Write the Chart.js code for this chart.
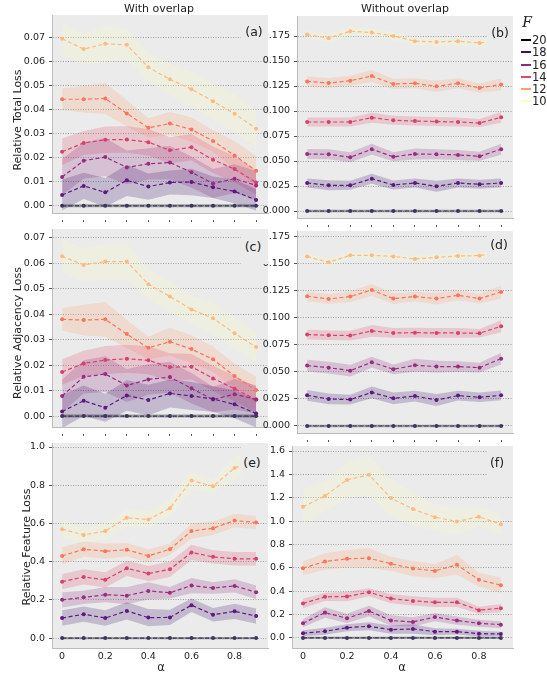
<!DOCTYPE html>
<html>
<head>
<meta charset="utf-8">
<script src="https://cdn.jsdelivr.net/npm/chart.js@4.4.0/dist/chart.umd.min.js"></script>
<style>
  body { margin: 0; width: 547px; height: 674px; background: #fff; position: relative; overflow: hidden;
         font-family: "DejaVu Sans", sans-serif; color: #222; }
  canvas { position: absolute; }
  .txt { position: absolute; white-space: nowrap; transform: translate(-50%, -50%); }
  .ylab { position: absolute; white-space: nowrap; font-size: 11px; transform: translate(-50%, -50%) rotate(-90deg); }
  .tag { position: absolute; background: #ebebeb; font-size: 12.5px; z-index: 5; }
  .tag span { position: absolute; transform: translate(-50%, -50%); }
  .leg { position: absolute; font-size: 11.5px; }
  .leg i { position: absolute; left: 0; width: 10px; height: 2px; }
</style>
</head>
<body>
<script>
// alpha values on the x axis
const alphas = [0, 0.1, 0.2, 0.3, 0.4, 0.5, 0.6, 0.7, 0.8, 0.9];
const fValues = [20, 18, 16, 14, 12, 10];

// rows follow fValues: 20, 18, 16, 14, 12, 10
const totalOverlap = [
    [0, 0, 0, 0, 0, 0, 0, 0, 0, 0],
    [0.0045, 0.0083, 0.0056, 0.0106, 0.0080, 0.0097, 0.0099, 0.0077, 0.0060, 0.0024],
    [0.0120, 0.0188, 0.0203, 0.0160, 0.0175, 0.0180, 0.0140, 0.0093, 0.0113, 0.0085],
    [0.0225, 0.0262, 0.0275, 0.0276, 0.0265, 0.0231, 0.0244, 0.0192, 0.0153, 0.0097],
    [0.0444, 0.0444, 0.0447, 0.0385, 0.0325, 0.0343, 0.0318, 0.0270, 0.0210, 0.0146],
    [0.0696, 0.0653, 0.0675, 0.0671, 0.0577, 0.0527, 0.0486, 0.0436, 0.0384, 0.0321]
];
const totalOverlapSpread = [
    [0.0006, 0.0006, 0.0006, 0.0006, 0.0006, 0.0006, 0.0006, 0.0006, 0.0006, 0.0006],
    [0.0065, 0.0055, 0.0060, 0.0065, 0.0055, 0.0050, 0.0055, 0.0045, 0.0050, 0.0045],
    [0.0075, 0.0075, 0.0080, 0.0070, 0.0065, 0.0070, 0.0065, 0.0060, 0.0060, 0.0060],
    [0.0055, 0.0050, 0.0055, 0.0055, 0.0055, 0.0055, 0.0055, 0.0055, 0.0055, 0.0050],
    [0.0045, 0.0055, 0.0065, 0.0055, 0.0040, 0.0048, 0.0050, 0.0045, 0.0060, 0.0060],
    [0.0065, 0.0065, 0.0075, 0.0065, 0.0060, 0.0065, 0.0075, 0.0075, 0.0080, 0.0075]
];

const totalNoOverlap = [
    [0, 0, 0, 0, 0, 0, 0, 0, 0, 0],
    [0.0280, 0.0257, 0.0257, 0.0323, 0.0260, 0.0280, 0.0247, 0.0280, 0.0267, 0.0280],
    [0.0570, 0.0567, 0.0537, 0.0618, 0.0542, 0.0570, 0.0567, 0.0561, 0.0547, 0.0618],
    [0.0890, 0.0890, 0.0890, 0.0933, 0.0907, 0.0900, 0.0894, 0.0890, 0.0880, 0.0937],
    [0.1296, 0.1280, 0.1303, 0.1349, 0.1270, 0.1277, 0.1247, 0.1277, 0.1230, 0.1266],
    [0.1764, 0.1728, 0.1798, 0.1784, 0.1751, 0.1698, 0.1691, 0.1698, 0.1681, 0.1700]
];
const totalNoOverlapSpread = [
    [0.0012, 0.0012, 0.0012, 0.0012, 0.0012, 0.0012, 0.0012, 0.0012, 0.0012, 0.0012],
    [0.0045, 0.0050, 0.0045, 0.0050, 0.0045, 0.0045, 0.0055, 0.0045, 0.0045, 0.0045],
    [0.0050, 0.0050, 0.0050, 0.0055, 0.0045, 0.0055, 0.0050, 0.0050, 0.0045, 0.0055],
    [0.0045, 0.0045, 0.0045, 0.0050, 0.0045, 0.0045, 0.0045, 0.0045, 0.0040, 0.0055],
    [0.0050, 0.0050, 0.0050, 0.0060, 0.0050, 0.0050, 0.0055, 0.0050, 0.0045, 0.0060],
    [0.0040, 0.0040, 0.0050, 0.0045, 0.0040, 0.0040, 0.0040, 0.0040, 0.0040, 0.0040]
];

const adjOverlap = [
    [0, 0, 0, 0, 0, 0, 0, 0, 0, 0],
    [0.0018, 0.0060, 0.0033, 0.0081, 0.0063, 0.0089, 0.0079, 0.0067, 0.0046, 0.0010],
    [0.0079, 0.0154, 0.0165, 0.0120, 0.0144, 0.0153, 0.0109, 0.0065, 0.0086, 0.0065],
    [0.0173, 0.0207, 0.0220, 0.0225, 0.0219, 0.0192, 0.0194, 0.0148, 0.0107, 0.0065],
    [0.0380, 0.0377, 0.0380, 0.0322, 0.0268, 0.0292, 0.0263, 0.0223, 0.0157, 0.0102],
    [0.0628, 0.0594, 0.0607, 0.0607, 0.0518, 0.0470, 0.0419, 0.0384, 0.0325, 0.0271]
];
const adjOverlapSpread = [
    [0.0006, 0.0006, 0.0006, 0.0006, 0.0006, 0.0006, 0.0006, 0.0006, 0.0006, 0.0006],
    [0.0065, 0.0060, 0.0055, 0.0060, 0.0060, 0.0055, 0.0055, 0.0050, 0.0055, 0.0055],
    [0.0065, 0.0065, 0.0070, 0.0065, 0.0060, 0.0060, 0.0060, 0.0050, 0.0060, 0.0055],
    [0.0050, 0.0050, 0.0055, 0.0055, 0.0055, 0.0055, 0.0050, 0.0050, 0.0050, 0.0050],
    [0.0045, 0.0060, 0.0068, 0.0055, 0.0045, 0.0055, 0.0055, 0.0049, 0.0050, 0.0052],
    [0.0065, 0.0065, 0.0070, 0.0070, 0.0060, 0.0060, 0.0055, 0.0063, 0.0060, 0.0060]
];

const adjNoOverlap = [
    [0, 0, 0, 0, 0, 0, 0, 0, 0, 0],
    [0.0284, 0.0250, 0.0244, 0.0311, 0.0256, 0.0277, 0.0241, 0.0281, 0.0266, 0.0284],
    [0.0559, 0.0540, 0.0512, 0.0590, 0.0525, 0.0562, 0.0550, 0.0550, 0.0540, 0.0623],
    [0.0846, 0.0840, 0.0837, 0.0880, 0.0861, 0.0864, 0.0861, 0.0861, 0.0858, 0.0923],
    [0.1201, 0.1176, 0.1198, 0.1259, 0.1179, 0.1198, 0.1179, 0.1210, 0.1179, 0.1241],
    [0.1568, 0.1515, 0.1580, 0.1580, 0.1570, 0.1546, 0.1561, 0.1574, 0.1577, 0.1605]
];
const adjNoOverlapSpread = [
    [0.0012, 0.0012, 0.0012, 0.0012, 0.0012, 0.0012, 0.0012, 0.0012, 0.0012, 0.0012],
    [0.0050, 0.0050, 0.0045, 0.0055, 0.0055, 0.0050, 0.0055, 0.0045, 0.0045, 0.0045],
    [0.0055, 0.0055, 0.0055, 0.0050, 0.0045, 0.0060, 0.0055, 0.0050, 0.0045, 0.0055],
    [0.0045, 0.0045, 0.0045, 0.0055, 0.0045, 0.0045, 0.0045, 0.0045, 0.0040, 0.0055],
    [0.0045, 0.0045, 0.0050, 0.0055, 0.0050, 0.0045, 0.0055, 0.0045, 0.0045, 0.0060],
    [0.0030, 0.0035, 0.0035, 0.0030, 0.0030, 0.0030, 0.0030, 0.0030, 0.0030, 0.0030]
];

const featOverlap = [
    [0, 0, 0, 0, 0, 0, 0, 0, 0, 0],
    [0.105, 0.125, 0.105, 0.142, 0.107, 0.108, 0.172, 0.122, 0.140, 0.115],
    [0.200, 0.213, 0.227, 0.222, 0.247, 0.237, 0.275, 0.262, 0.273, 0.240],
    [0.295, 0.320, 0.305, 0.365, 0.338, 0.360, 0.448, 0.425, 0.415, 0.415],
    [0.430, 0.465, 0.455, 0.462, 0.430, 0.465, 0.560, 0.575, 0.615, 0.605],
    [0.570, 0.540, 0.560, 0.630, 0.620, 0.680, 0.825, 0.795, 0.890, 0.930]
];
const featOverlapSpread = [
    [0.006, 0.006, 0.006, 0.006, 0.006, 0.006, 0.006, 0.006, 0.006, 0.006],
    [0.040, 0.040, 0.040, 0.045, 0.045, 0.040, 0.035, 0.035, 0.040, 0.040],
    [0.040, 0.035, 0.040, 0.045, 0.045, 0.030, 0.040, 0.030, 0.035, 0.035],
    [0.040, 0.040, 0.040, 0.040, 0.040, 0.040, 0.040, 0.035, 0.035, 0.035],
    [0.045, 0.040, 0.040, 0.035, 0.035, 0.030, 0.040, 0.035, 0.035, 0.035],
    [0.045, 0.040, 0.045, 0.045, 0.045, 0.045, 0.050, 0.030, 0.060, 0.060]
];

const featNoOverlap = [
    [0, 0, 0, 0, 0, 0, 0, 0, 0, 0],
    [0.040, 0.057, 0.088, 0.100, 0.071, 0.077, 0.054, 0.054, 0.037, 0.034],
    [0.126, 0.217, 0.168, 0.231, 0.149, 0.137, 0.179, 0.149, 0.126, 0.114],
    [0.295, 0.352, 0.355, 0.391, 0.337, 0.317, 0.305, 0.305, 0.238, 0.255],
    [0.597, 0.654, 0.677, 0.683, 0.635, 0.594, 0.574, 0.626, 0.498, 0.452],
    [1.122, 1.216, 1.353, 1.396, 1.197, 1.103, 1.034, 0.997, 1.037, 0.974]
];
const featNoOverlapSpread = [
    [0.010, 0.010, 0.010, 0.010, 0.010, 0.010, 0.010, 0.010, 0.010, 0.010],
    [0.025, 0.030, 0.030, 0.035, 0.035, 0.040, 0.030, 0.025, 0.025, 0.020],
    [0.035, 0.045, 0.040, 0.045, 0.045, 0.040, 0.035, 0.035, 0.030, 0.030],
    [0.040, 0.035, 0.040, 0.035, 0.040, 0.040, 0.040, 0.040, 0.030, 0.035],
    [0.060, 0.070, 0.075, 0.085, 0.060, 0.065, 0.060, 0.085, 0.060, 0.065],
    [0.150, 0.130, 0.160, 0.170, 0.160, 0.140, 0.110, 0.110, 0.080, 0.090]
];

// colours: dashed lines and the lighter shaded bands / legend
const lineColors = ["#3d3560", "#5f187f", "#982d80", "#d3436e", "#f8765c", "#febb81"];
const bandColors = ["#000004", "#3b0f70", "#8c2981", "#de4968", "#fe9f6d", "#fcfdbf"];

// panel layout in page pixels: plot area left/top/right/bottom
const panels = [
    { tag: "(a)", mean: totalOverlap, spread: totalOverlapSpread, area: [52, 15, 268, 213], y: [-0.003, 0.0795], step: 0.01, dec: 2, bottom: false, tagPos: [254, 31] },
    { tag: "(b)", mean: totalNoOverlap, spread: totalNoOverlapSpread, area: [297, 16, 513, 218], y: [-0.007, 0.195], step: 0.025, dec: 3, bottom: false, tagPos: [500, 32] },
    { tag: "(c)", mean: adjOverlap, spread: adjOverlapSpread, area: [52, 229, 268, 427], y: [-0.0043, 0.0735], step: 0.01, dec: 2, bottom: false, tagPos: [253, 246] },
    { tag: "(d)", mean: adjNoOverlap, spread: adjNoOverlapSpread, area: [297, 231, 513, 433], y: [-0.0065, 0.1805], step: 0.025, dec: 3, bottom: false, tagPos: [499, 244] },
    { tag: "(e)", mean: featOverlap, spread: featOverlapSpread, area: [52, 443, 268, 648], y: [-0.052, 1.021], step: 0.2, dec: 1, bottom: true, tagPos: [252, 462] },
    { tag: "(f)", mean: featNoOverlap, spread: featNoOverlapSpread, area: [292, 446, 513, 648], y: [-0.086, 1.643], step: 0.2, dec: 1, bottom: true, tagPos: [497, 462] }
];

const bgPlugin = {
    id: "bg",
    beforeDraw(chart) {
        const { ctx, chartArea: a } = chart;
        ctx.save();
        ctx.fillStyle = "#ebebeb";
        ctx.fillRect(a.left, a.top, a.right - a.left, a.bottom - a.top);
        ctx.restore();
    }
};

function addText(cls, text, x, y, extra) {
    const d = document.createElement("div");
    d.className = cls;
    d.textContent = text;
    d.style.left = x + "px";
    d.style.top = y + "px";
    if (extra) Object.assign(d.style, extra);
    document.body.appendChild(d);
    return d;
}

const AXIS_W = 45, PAD_T = 10, PAD_R = 8;
const tickFont = { family: "DejaVu Sans", size: 9.5 };

panels.forEach(p => {
    const [L, T, R, B] = p.area;
    const xH = p.bottom ? 22 : 14;
    const cv = document.createElement("canvas");
    cv.width = (R - L) + AXIS_W + PAD_R;
    cv.height = (B - T) + PAD_T + xH;
    cv.style.left = (L - AXIS_W) + "px";
    cv.style.top = (T - PAD_T) + "px";
    document.body.appendChild(cv);

    const datasets = [];
    fValues.forEach((f, k) => {
        datasets.push({
            label: "F=" + f,
            data: alphas.map((a, i) => ({ x: a, y: p.mean[k][i] })),
            borderColor: lineColors[k],
            backgroundColor: lineColors[k],
            borderDash: [4, 2.5],
            borderWidth: 1.2,
            pointRadius: 2,
            pointBorderWidth: 0,
            fill: false,
            order: 0
        });
    });
    fValues.forEach((f, k) => {
        datasets.push({
            data: alphas.map((a, i) => ({ x: a, y: p.mean[k][i] + p.spread[k][i] })),
            borderColor: "rgba(0,0,0,0)",
            borderWidth: 1,
            pointRadius: 0,
            backgroundColor: bandColors[k] + (k === 0 ? "55" : "38"),
            fill: "+1",
            order: 1
        });
        datasets.push({
            data: alphas.map((a, i) => ({ x: a, y: p.mean[k][i] - p.spread[k][i] })),
            borderColor: "rgba(0,0,0,0)",
            borderWidth: 1,
            pointRadius: 0,
            fill: false,
            order: 1
        });
    });

    new Chart(cv, {
        type: "line",
        data: { datasets: datasets },
        plugins: [bgPlugin],
        options: {
            responsive: false,
            devicePixelRatio: 1,
            animation: false,
            events: [],
            layout: { padding: { top: PAD_T, right: PAD_R, left: 0, bottom: 0 } },
            plugins: { legend: { display: false }, tooltip: { enabled: false } },
            scales: {
                x: {
                    type: "linear",
                    min: L === 292 ? -0.05 : -0.047,
                    max: 0.955,
                    afterFit: s => { s.height = xH; },
                    ticks: {
                        display: p.bottom,
                        stepSize: 0.1,
                        autoSkip: false,
                        includeBounds: false,
                        maxRotation: 0,
                        padding: 3,
                        color: "#222",
                        font: tickFont,
                        callback: v => {
                            const r = Math.round(v * 10);
                            if (r % 2 !== 0) return "";
                            return r === 0 ? "0" : (r / 10).toFixed(1);
                        }
                    },
                    grid: {
                        drawOnChartArea: false,
                        drawTicks: !p.bottom,
                        tickLength: 9,
                        tickColor: "#555",
                        tickBorderDash: [0, 6, 2, 20]
                    },
                    border: { color: "#bbb" }
                },
                y: {
                    min: p.y[0],
                    max: p.y[1],
                    afterFit: s => { s.width = AXIS_W; },
                    ticks: {
                        stepSize: p.step,
                        includeBounds: false,
                        autoSkip: false,
                        padding: 4,
                        color: "#222",
                        font: tickFont,
                        callback: v => v.toFixed(p.dec)
                    },
                    grid: { color: "#a0a0a0", tickLength: 3, tickColor: "#555" },
                    border: { color: "#bbb", dash: [1, 1.5] }
                }
            }
        }
    });

    // panel tag box, sits on top of the plot like the original legend frame
    const boxL = L < 200 ? 241 : 487;
    const box = document.createElement("div");
    box.className = "tag";
    box.style.left = boxL + "px";
    box.style.top = (T + 2) + "px";
    box.style.width = (R - boxL) + "px";
    box.style.height = (p.tagPos[1] - T + 16) + "px";
    const sp = document.createElement("span");
    sp.textContent = p.tag;
    sp.style.left = (p.tagPos[0] - boxL) + "px";
    sp.style.top = (p.tagPos[1] - T - 2) + "px";
    box.appendChild(sp);
    document.body.appendChild(box);
});

// titles and axis labels
addText("txt", "With overlap", 159, 8, { fontSize: "11px" });
addText("txt", "Without overlap", 405, 8, { fontSize: "11px" });
addText("ylab", "Relative Total Loss", 17, 120);
addText("ylab", "Relative Adjacency Loss", 17, 333);
addText("ylab", "Relative Feature Loss", 26, 547);
addText("txt", "α", 161, 667, { fontSize: "11.5px" });
addText("txt", "α", 402, 667, { fontSize: "11.5px" });

// legend
addText("txt", "F", 527, 22, { fontFamily: "DejaVu Serif", fontStyle: "italic", fontSize: "14px" });
fValues.forEach((f, k) => {
    const y = 40 + k * 12.25;
    const d = addText("leg", String(f), 532, y - 7);
    const sw = document.createElement("i");
    sw.style.background = bandColors[k];
    sw.style.left = "-11px";
    sw.style.top = "6px";
    d.appendChild(sw);
});
</script>
</body>
</html>
